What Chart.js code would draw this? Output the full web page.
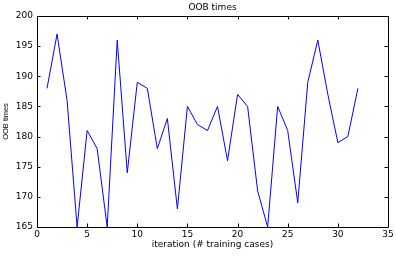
<!DOCTYPE html>
<html><head><meta charset="utf-8">
<script src="https://cdn.jsdelivr.net/npm/chart.js@4/dist/chart.umd.min.js"></script>
<style>html,body{margin:0;padding:0;background:#fff}#w{width:396px;height:258px}</style>
</head><body><div id="w"><canvas id="c" width="396" height="258"></canvas></div>
<script>
const iterations = [1,2,3,4,5,6,7,8,9,10,11,12,13,14,15,16,17,18,19,20,21,22,23,24,25,26,27,28,29,30,31,32];
const oobTimes = [188,197,186,165,181,178,165,196,174,189,188,178,183,168,185,182,181,185,176,187,185,171,165,185,181,169,189,196,187,179,180,188];
const xTicks = [0,5,10,15,20,25,30,35];
const yTicks = [165,170,175,180,185,190,195,200];
const titleText = 'OOB times';
const xLabel = 'iteration (# training cases)';
const yLabel = 'OOB times';

const FONT = "'DejaVu Sans', sans-serif";
const FONT2 = "'Liberation Sans', Arial, sans-serif";
const boxPlugin = {
  id: 'box',
  afterDraw(chart) {
    const {ctx, chartArea: a, scales} = chart;
    ctx.save();
    ctx.strokeStyle = '#000';
    ctx.lineWidth = 1;
    ctx.beginPath();
    ctx.rect(Math.round(a.left)+0.5, Math.round(a.top)+0.5, Math.round(a.right-a.left), Math.round(a.bottom-a.top));
    const L = 3.5;
    xTicks.forEach(v => {
      const x = Math.round(scales.x.getPixelForValue(v))+0.5;
      ctx.moveTo(x, a.bottom); ctx.lineTo(x, a.bottom - L);
      ctx.moveTo(x, a.top); ctx.lineTo(x, a.top + L);
    });
    yTicks.forEach(v => {
      const y = Math.round(scales.y.getPixelForValue(v))+0.5;
      ctx.moveTo(a.left, y); ctx.lineTo(a.left + L, y);
      ctx.moveTo(a.right, y); ctx.lineTo(a.right - L, y);
    });
    ctx.stroke();
    ctx.fillStyle = '#000';
    ctx.font = '9px ' + FONT;
    ctx.textAlign = 'center';
    ctx.textBaseline = 'middle';
    ctx.fillText(titleText, (a.left + a.right)/2, 8);
    ctx.restore();
  }
};

new Chart(document.getElementById('c'), {
  type: 'line',
  data: {
    labels: iterations,
    datasets: [{
      data: iterations.map((x,i)=>({x, y: oobTimes[i]})),
      borderColor: '#0000ff',
      borderWidth: 1,
      pointRadius: 0,
      tension: 0,
      fill: false
    }]
  },
  options: {
    responsive: false,
    animation: false,
    devicePixelRatio: 1,
    layout: {padding: {left: 0, right: 8, top: 16, bottom: 0}},
    plugins: {legend: {display: false}, tooltip: {enabled: false}, title: {display: false}},
    scales: {
      x: {
        type: 'linear', min: 0, max: 35,
        afterBuildTicks: s => { s.ticks = xTicks.map(v => ({value: v})); },
        afterFit: s => { s.height = 31; },
        grid: {display: false, drawTicks: false},
        border: {display: false},
        ticks: {color: '#000', font: {family: FONT, size: 9}, padding: 2, maxRotation: 0},
        title: {display: true, text: xLabel, color: '#000', font: {family: FONT, size: 9}, padding: {top: 2, bottom: 8}}
      },
      y: {
        type: 'linear', min: 165, max: 200,
        afterBuildTicks: s => { s.ticks = yTicks.map(v => ({value: v})); },
        afterFit: s => { s.width = 37; },
        grid: {display: false, drawTicks: false},
        border: {display: false},
        ticks: {color: '#000', font: {family: FONT, size: 9}, padding: 4},
        title: {display: true, text: yLabel, color: '#000', font: {family: FONT2, size: 7.5}, padding: {top: 1, bottom: 0}}
      }
    }
  },
  plugins: [boxPlugin]
});
</script>
</body></html>
